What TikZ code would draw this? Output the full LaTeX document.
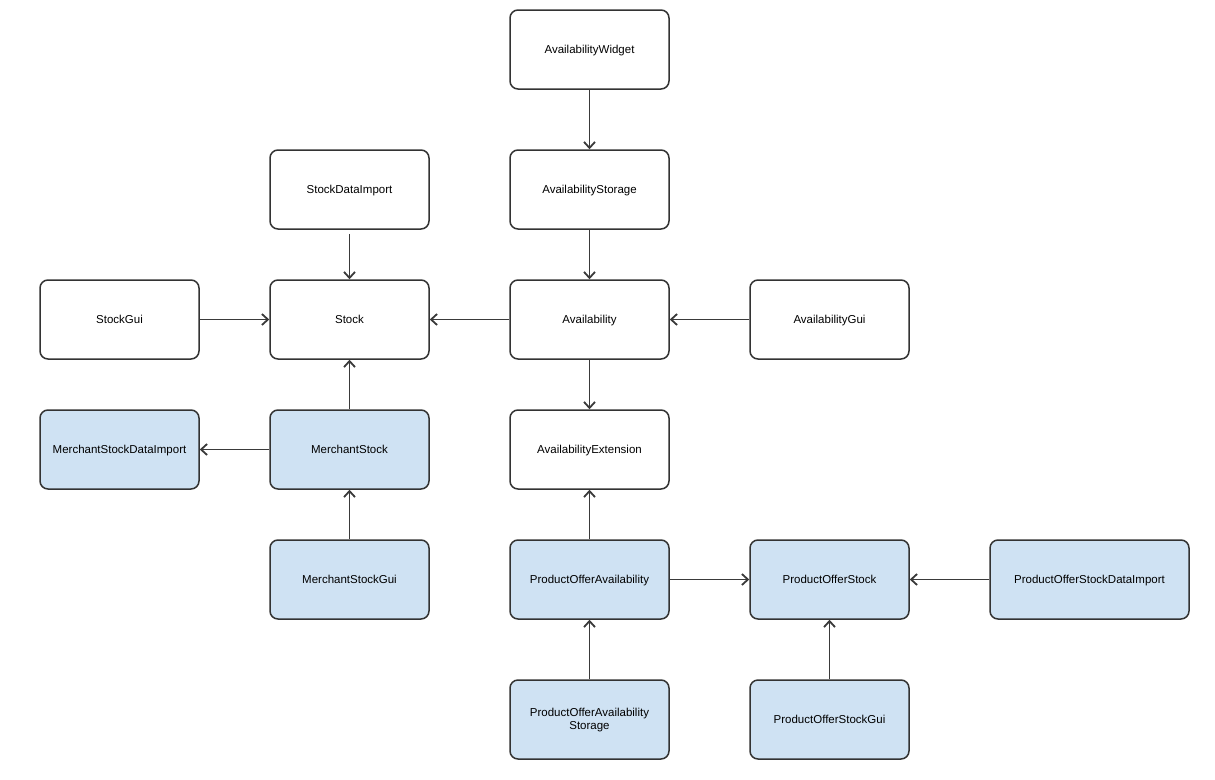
\documentclass[tikz,border=0pt]{standalone}
\usepackage{fontspec}
\setmainfont{Liberation Sans}
\usetikzlibrary{arrows.meta}
\definecolor{boxline}{HTML}{333333}
\definecolor{bluefill}{HTML}{CFE2F3}
\definecolor{edgecol}{HTML}{3A3A3A}
\tikzset{
  box/.style={draw=boxline, line width=1.5pt, rounded corners=8pt, fill=white,
    minimum width=159pt, minimum height=79pt, inner sep=2pt, align=center,
    text depth=1pt, font=\fontsize{11.5pt}{13.5pt}\selectfont},
  bluebox/.style={box, fill=bluefill},
  conn/.style={draw=edgecol, line width=1.2pt, -{Straight Barb[length=6pt,width=11pt,line width=1.8pt]}}
}
\begin{document}
\begin{tikzpicture}[x=1pt,y=-1pt]
\useasboundingbox (0,0) rectangle (1215,779);
\node[box] (aw) at (589.5,49.5) {AvailabilityWidget};
\node[box] (as) at (589.5,189.5) {AvailabilityStorage};
\node[box] (sdi) at (349.5,189.5) {StockDataImport};
\node[box] (sg) at (119.5,319.5) {StockGui};
\node[box] (st) at (349.5,319.5) {Stock};
\node[box] (av) at (589.5,319.5) {Availability};
\node[box] (avg) at (829.5,319.5) {AvailabilityGui};
\node[bluebox] (msdi) at (119.5,449.5) {MerchantStockDataImport};
\node[bluebox] (ms) at (349.5,449.5) {MerchantStock};
\node[box] (ae) at (589.5,449.5) {AvailabilityExtension};
\node[bluebox] (msg) at (349.5,579.5) {MerchantStockGui};
\node[bluebox] (poa) at (589.5,579.5) {ProductOfferAvailability};
\node[bluebox] (pos) at (829.5,579.5) {ProductOfferStock};
\node[bluebox, minimum width=199pt] (posdi) at (1089.5,579.5) {ProductOfferStockDataImport};
\node[bluebox] (poas) at (589.5,719.5) {ProductOfferAvailability\\Storage};
\node[bluebox] (posg) at (829.5,719.5) {ProductOfferStockGui};

\draw[conn] (aw) -- (as);
\draw[conn] (as) -- (av);
\draw[conn, shorten <=4pt] (sdi) -- (st);
\draw[conn] (sg) -- (st);
\draw[conn] (av) -- (st);
\draw[conn] (avg) -- (av);
\draw[conn] (av) -- (ae);
\draw[conn] (ms) -- (st);
\draw[conn] (ms) -- (msdi);
\draw[conn] (msg) -- (ms);
\draw[conn] (poa) -- (ae);
\draw[conn] (poa) -- (pos);
\draw[conn] (posdi) -- (pos);
\draw[conn] (poas) -- (poa);
\draw[conn] (posg) -- (pos);
\end{tikzpicture}
\end{document}
